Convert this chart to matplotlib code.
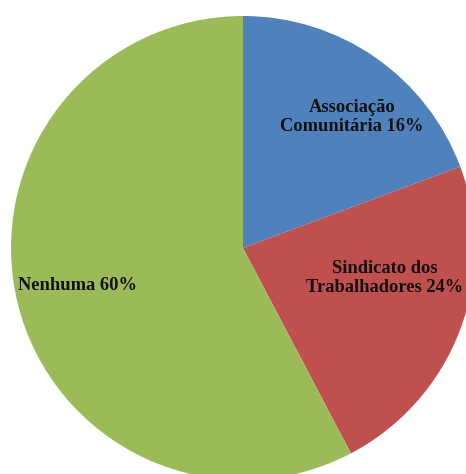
import matplotlib
matplotlib.use("Agg")
import matplotlib.pyplot as plt

categories = ["Associação Comunitária", "Sindicato dos Trabalhadores", "Nenhuma"]
values = [19.3, 23.0, 57.7]
label_texts = ["Associação\nComunitária 16%", "Sindicato dos\nTrabalhadores 24%", "Nenhuma 60%"]
colors = ["#4F81BD", "#C0504D", "#9BBB59"]

W, H = 466, 474
fig = plt.figure(figsize=(W / 100, H / 100), dpi=100)
ax = fig.add_axes([0, 0, 1, 1])
ax.set_xlim(0, W)
ax.set_ylim(0, H)
ax.set_aspect("equal")
ax.axis("off")

cx, cy, r = 243, H - 248, 232
ax.pie(values, colors=colors, startangle=90, counterclock=False,
       center=(cx, cy), radius=r, frame=True,
       wedgeprops=dict(linewidth=0))
ax.set_xlim(0, W)
ax.set_ylim(0, H)
ax.axis("off")

label_pos = [(352, 117), (385, 278), (77, 285)]
for txt, (x, y) in zip(label_texts, label_pos):
    ax.text(x, H - y, txt, ha="center", va="center", fontsize=13.3,
            fontweight="bold", family="Liberation Serif", color="#111111",
            linespacing=1.2)

fig.savefig("out.png", dpi=100)
